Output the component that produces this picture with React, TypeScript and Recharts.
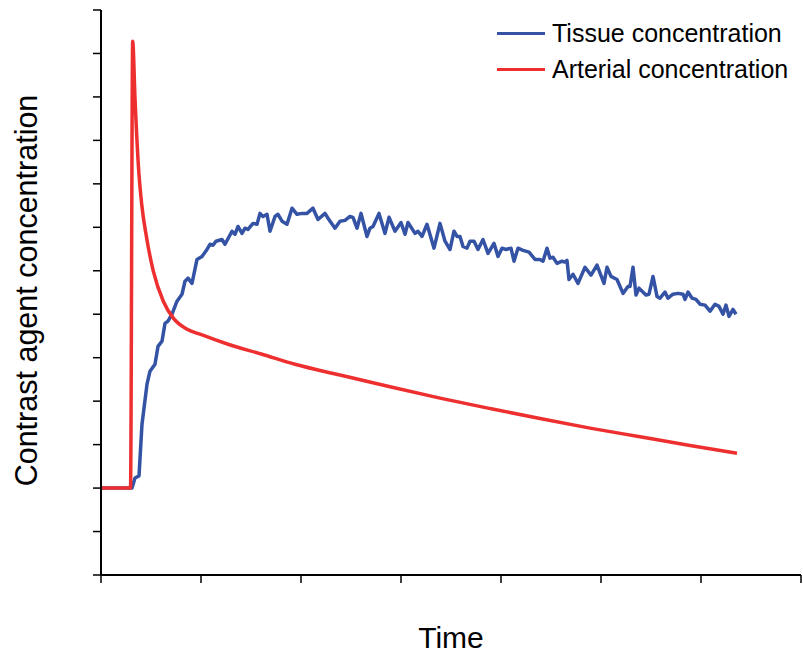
import React from 'react';
import { LineChart, Line, XAxis, YAxis, Label } from 'recharts';

const xTicks = [0, 1, 2, 3, 4, 5, 6, 7];
const yTicks = [-2, -1, 0, 1, 2, 3, 4, 5, 6, 7, 8, 9, 10, 11];

const tissueTime = [
  0, 0.31, 0.34, 0.38, 0.41, 0.46, 0.49, 0.54, 0.57, 0.61, 0.64, 0.67, 0.71, 0.76, 0.81, 0.84, 0.87, 0.91, 0.96, 1.01,
  1.06, 1.09, 1.12, 1.15, 1.21, 1.24, 1.31, 1.34, 1.37, 1.41, 1.44, 1.47, 1.52, 1.56, 1.59, 1.62, 1.66, 1.69, 1.74, 1.77,
  1.81, 1.86, 1.91, 1.96, 2.01, 2.06, 2.12, 2.17, 2.24, 2.27, 2.34, 2.39, 2.44, 2.49, 2.52, 2.56, 2.6, 2.66, 2.69, 2.72,
  2.78, 2.84, 2.88, 2.94, 3.0, 3.04, 3.07, 3.14, 3.17, 3.21, 3.26, 3.33, 3.39, 3.44, 3.49, 3.53, 3.56, 3.59, 3.62, 3.66,
  3.69, 3.73, 3.77, 3.82, 3.87, 3.93, 3.97, 4.01, 4.05, 4.1, 4.13, 4.17, 4.22, 4.28, 4.34, 4.39, 4.42, 4.46, 4.49, 4.52,
  4.56, 4.61, 4.64, 4.66, 4.68, 4.72, 4.77, 4.84, 4.9, 4.96, 5.03, 5.06, 5.1, 5.16, 5.22, 5.27, 5.29, 5.32, 5.35, 5.38,
  5.45, 5.48, 5.52, 5.56, 5.59, 5.64, 5.67, 5.72, 5.77, 5.82, 5.84, 5.87, 5.91, 5.95, 5.99, 6.04, 6.09, 6.14, 6.18, 6.22,
  6.25, 6.28, 6.32, 6.35,
];
const tissueConc = [
  0, 0, 0.23, 0.28, 1.47, 2.39, 2.69, 2.85, 3.26, 3.38, 3.79, 3.84, 4.0, 4.3, 4.46, 4.76, 4.83, 4.71, 5.26, 5.33,
  5.49, 5.61, 5.59, 5.68, 5.72, 5.61, 5.91, 5.84, 6.02, 5.86, 5.98, 5.95, 6.09, 6.07, 6.32, 6.25, 6.3, 5.91, 6.25, 6.3,
  6.14, 6.07, 6.44, 6.3, 6.32, 6.32, 6.44, 6.18, 6.32, 6.21, 5.98, 6.14, 6.16, 6.25, 6.23, 5.98, 6.32, 5.79, 5.98, 6.02,
  6.32, 5.86, 6.23, 5.91, 6.11, 5.84, 6.11, 5.86, 5.91, 5.79, 6.07, 5.52, 6.09, 5.68, 5.49, 5.91, 5.79, 5.79, 5.56, 5.52,
  5.68, 5.68, 5.49, 5.72, 5.4, 5.63, 5.33, 5.52, 5.49, 5.52, 5.22, 5.52, 5.47, 5.43, 5.26, 5.26, 5.22, 5.52, 5.29, 5.31,
  5.17, 5.22, 5.2, 5.24, 4.8, 4.92, 4.71, 5.08, 4.9, 5.13, 4.71, 5.08, 4.87, 4.8, 4.48, 4.64, 4.64, 5.08, 4.44, 4.6,
  4.44, 4.46, 4.87, 4.41, 4.37, 4.51, 4.37, 4.46, 4.48, 4.46, 4.34, 4.51, 4.37, 4.34, 4.23, 4.21, 4.07, 4.23, 4.18, 4.0,
  4.21, 3.95, 4.11, 4.0,
];

const arterialTime = [
  0, 0.295, 0.317, 0.34, 0.373, 0.407, 0.457, 0.523, 0.623, 0.723, 0.857, 0.99, 1.27, 1.61, 1.94, 2.39, 2.89, 3.39, 3.89,
  4.39, 4.89, 5.39, 5.89, 6.36,
];
const arterialConc = [
  0, 0, 10.28, 8.97, 7.45, 6.53, 5.75, 4.99, 4.3, 3.91, 3.66, 3.54, 3.31, 3.08, 2.85, 2.6, 2.33, 2.07, 1.83, 1.6, 1.38,
  1.18, 0.98, 0.8,
];

const tissueData = tissueTime.map((t, i) => ({ t, v: tissueConc[i] }));
const arterialData = arterialTime.map((t, i) => ({ t, v: arterialConc[i] }));

const BLUE = '#3453a5';
const RED = '#ee2f2f';
const FONT = '"Liberation Sans", Arial, sans-serif';

const legendItems = [
  { name: 'Tissue concentration', color: BLUE },
  { name: 'Arterial concentration', color: RED },
];

export default function App() {
  return (
    <div style={{ position: 'absolute', left: 0, top: 0, width: 803, height: 655, background: '#fff' }}>
      <LineChart width={803} height={655} margin={{ top: 10, right: 2, bottom: 50, left: 0 }}>
        <XAxis
          type="number"
          dataKey="t"
          domain={[0, 7]}
          ticks={xTicks}
          allowDataOverflow
          tickSize={8}
          height={30}
          tickFormatter={() => ''}
          axisLine={{ stroke: '#000', strokeWidth: 2 }}
          tickLine={{ stroke: '#000', strokeWidth: 1.5 }}
        >
          <Label
            value="Time"
            position="bottom"
            offset={22}
            style={{ fontFamily: FONT, fontSize: 30, fill: '#000' }}
          />
        </XAxis>
        <YAxis
          type="number"
          dataKey="v"
          domain={[-2, 11]}
          ticks={yTicks}
          allowDataOverflow
          width={101}
          tickSize={8}
          tickFormatter={() => ''}
          axisLine={{ stroke: '#000', strokeWidth: 2 }}
          tickLine={{ stroke: '#000', strokeWidth: 1.5 }}
        >
          <Label
            content={(props: any) => {
              const vb = props.viewBox || { x: 0, y: 10, width: 101, height: 565 };
              const cx = vb.x + 37;
              const cy = vb.y + vb.height / 2 - 2;
              return (
                <text
                  x={cx}
                  y={cy}
                  transform={`rotate(-90 ${cx} ${cy})`}
                  textAnchor="middle"
                  style={{ fontFamily: FONT, fontSize: 30.5, fill: '#000' }}
                >
                  Contrast agent concentration
                </text>
              );
            }}
          />
        </YAxis>
        <Line
          data={tissueData}
          dataKey="v"
          name="Tissue concentration"
          type="linear"
          stroke={BLUE}
          strokeWidth={3.5}
          strokeLinejoin="round"
          dot={false}
          isAnimationActive={false}
        />
        <Line
          data={arterialData}
          dataKey="v"
          name="Arterial concentration"
          type="monotone"
          stroke={RED}
          strokeWidth={3.5}
          dot={false}
          isAnimationActive={false}
        />
      </LineChart>
      <div style={{ position: 'absolute', left: 497, top: 15, fontFamily: FONT, fontSize: 25, color: '#000' }}>
        {legendItems.map((it) => (
          <div key={it.name} style={{ display: 'flex', alignItems: 'center', height: 36, whiteSpace: 'nowrap' }}>
            <div style={{ width: 48, height: 3, background: it.color, marginRight: 7 }} />
            <span>{it.name}</span>
          </div>
        ))}
      </div>
    </div>
  );
}
